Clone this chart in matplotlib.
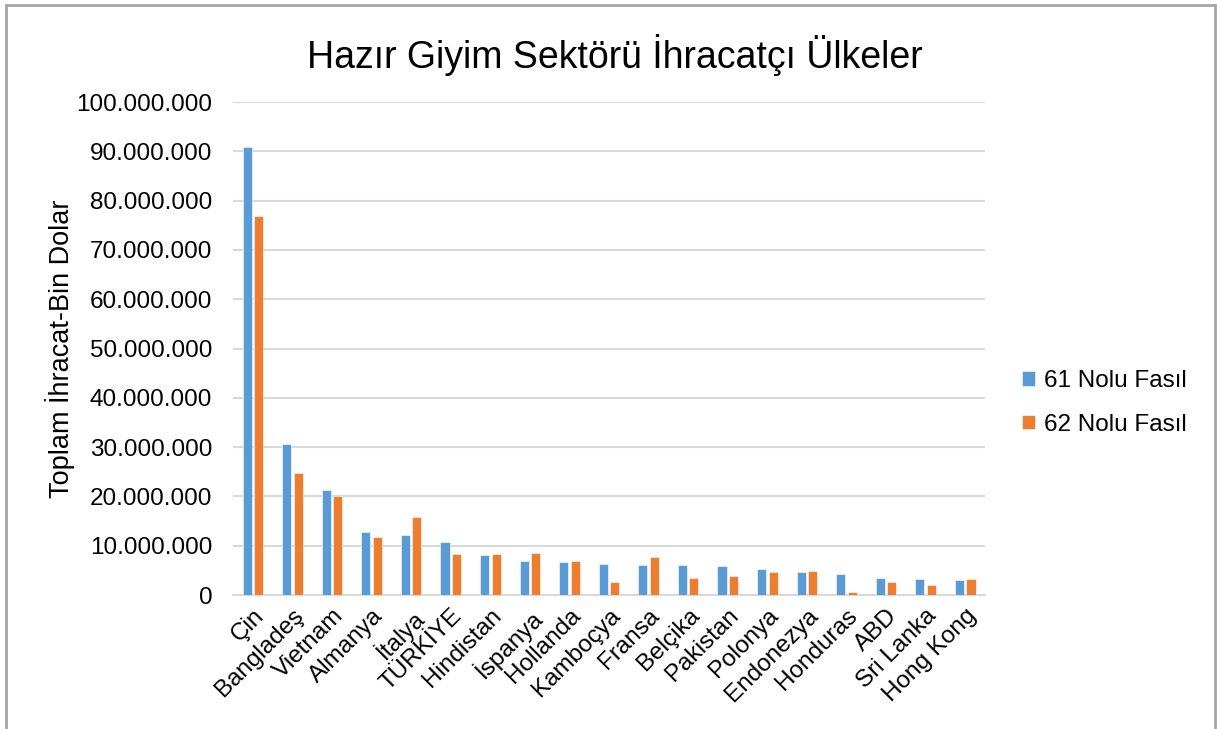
import matplotlib
import matplotlib.pyplot as plt
import numpy as np
from matplotlib.patches import Rectangle
from matplotlib.ticker import FuncFormatter

matplotlib.use('Agg')

SIZE = (12.17, 7.29)
DPI = 100
FONT = ['Liberation Sans', 'DejaVu Sans']
PATH = "out.png"

BLUE = '#5B9BD5'
ORANGE = '#ED7D31'
GRID = '#D9D9D9'

# ülkeler ve değerler (bin dolar)
countries = ["Çin", "Bangladeş", "Vietnam", "Almanya", "İtalya", "TÜRKİYE",
             "Hindistan", "İspanya", "Hollanda", "Kamboçya", "Fransa", "Belçika",
             "Pakistan", "Polonya", "Endonezya", "Honduras", "ABD", "Sri Lanka",
             "Hong Kong"]
fasil_61 = [90800000, 30700000, 21300000, 12800000, 12200000, 10800000,
            8200000, 6800000, 6600000, 6200000, 6100000, 6000000,
            5800000, 5200000, 4700000, 4300000, 3500000, 3200000, 3100000]
fasil_62 = [76800000, 24800000, 20100000, 11800000, 15900000, 8300000,
            8300000, 8500000, 6900000, 2600000, 7700000, 3500000,
            3900000, 4700000, 4900000, 600000, 2600000, 2000000, 3200000]
labels = ["61 Nolu Fasıl", "62 Nolu Fasıl"]


def tr_format(v, pos):
    return f"{int(v):,}".replace(",", ".")


def create_graph():
    plt.rcParams['font.family'] = FONT
    fig = plt.figure(figsize=SIZE, dpi=DPI)
    ax = fig.add_axes([0.1915, 0.1838, 0.6179, 0.6762])

    x = np.arange(len(countries))
    w = 0.23
    ax.bar(x - 0.145, fasil_61, w, color=BLUE, label=labels[0],
           edgecolor='white', linewidth=0.4, zorder=3)
    ax.bar(x + 0.145, fasil_62, w, color=ORANGE, label=labels[1],
           edgecolor='white', linewidth=0.4, zorder=3)

    ax.set_xlim(-0.5, len(countries) - 0.5)
    ax.set_ylim(0, 100000000)
    ax.set_yticks(np.arange(0, 100000001, 10000000))
    ax.yaxis.set_major_formatter(FuncFormatter(tr_format))
    ax.grid(axis='y', color=GRID, linewidth=1.5, zorder=0)
    for s in ['top', 'right', 'left']:
        ax.spines[s].set_visible(False)
    ax.spines['bottom'].set_color(GRID)
    ax.spines['bottom'].set_linewidth(1.5)
    ax.tick_params(axis='both', length=0, labelsize=17.5, pad=15)
    ax.set_xticks(x)
    ax.set_xticklabels(countries, rotation=45, ha='right',
                       rotation_mode='anchor')
    ax.tick_params(axis='x', pad=7)

    ax.set_ylabel("Toplam İhracat-Bin Dolar", fontsize=19.5, labelpad=1)
    fig.suptitle("Hazır Giyim Sektörü İhracatçı Ülkeler", fontsize=27,
                 x=0.505, y=0.925, va='center')

    ax.legend(loc='center left', bbox_to_anchor=(1.02, 0.39), frameon=False,
              fontsize=17.5, handlelength=0.55, handleheight=0.55,
              handletextpad=0.35, labelspacing=0.9)

    # dış çerçeve
    fig.patches.append(Rectangle((6 / 1217, -0.01), 1209 / 1217, 1.003,
                                 transform=fig.transFigure, fill=False,
                                 edgecolor='#A6A6A6', linewidth=2))
    fig.savefig(PATH, dpi=DPI)
    plt.close()


if __name__ == "__main__":
    create_graph()
